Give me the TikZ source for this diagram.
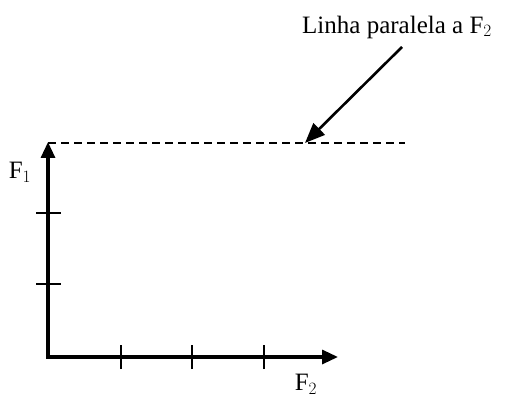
\documentclass[tikz,border=0pt]{standalone}
\usepackage{fontspec}
\setmainfont{Liberation Serif}
\usetikzlibrary{arrows.meta,positioning,calc}

\begin{document}
\begin{tikzpicture}[
            x=1pt,y=1pt,
            >=Triangle,
            axis/.style={line width=3.2pt,-{Triangle[length=16pt,width=14pt]}},
            tick/.style={line width=1.8pt},
            par/.style={line width=2.4pt,dash pattern=on 8pt off 5pt},
            lab/.style={font=\fontsize{25}{29}\selectfont,inner sep=0pt},
            pointer/.style={line width=2.6pt,-{Triangle[length=20pt,width=16pt]}}
        ]
        \useasboundingbox (0,0) rectangle (505,396);
        \coordinate (origin) at (48,39);
        \coordinate (ytop) at (48,254);
        \coordinate (xend) at (338,39);
        % axes
        \draw[axis] (origin) -- (ytop);
        \draw[axis] ([xshift=-1.6pt]origin) -- (xend);
        % ticks
        \foreach \x in {121,192,264}
            \draw[tick] (\x,27) -- (\x,51);
        \foreach \y in {112,183}
            \draw[tick] (36,\y) -- (61,\y);
        % parallel line
        \coordinate (hit) at (305,253);
        \draw[par] ([yshift=-1pt]ytop) -- (405,253);
        % labels
        \node[lab] (fone) at (20,224) {F$_1$};
        \node[lab] (ftwo) at (306,12) {F$_2$};
        \node[lab] (note) at (397,369) {Linha paralela a F$_2$};
        \draw[pointer] (402,349) -- (hit);
        \end{tikzpicture}
\end{document}
